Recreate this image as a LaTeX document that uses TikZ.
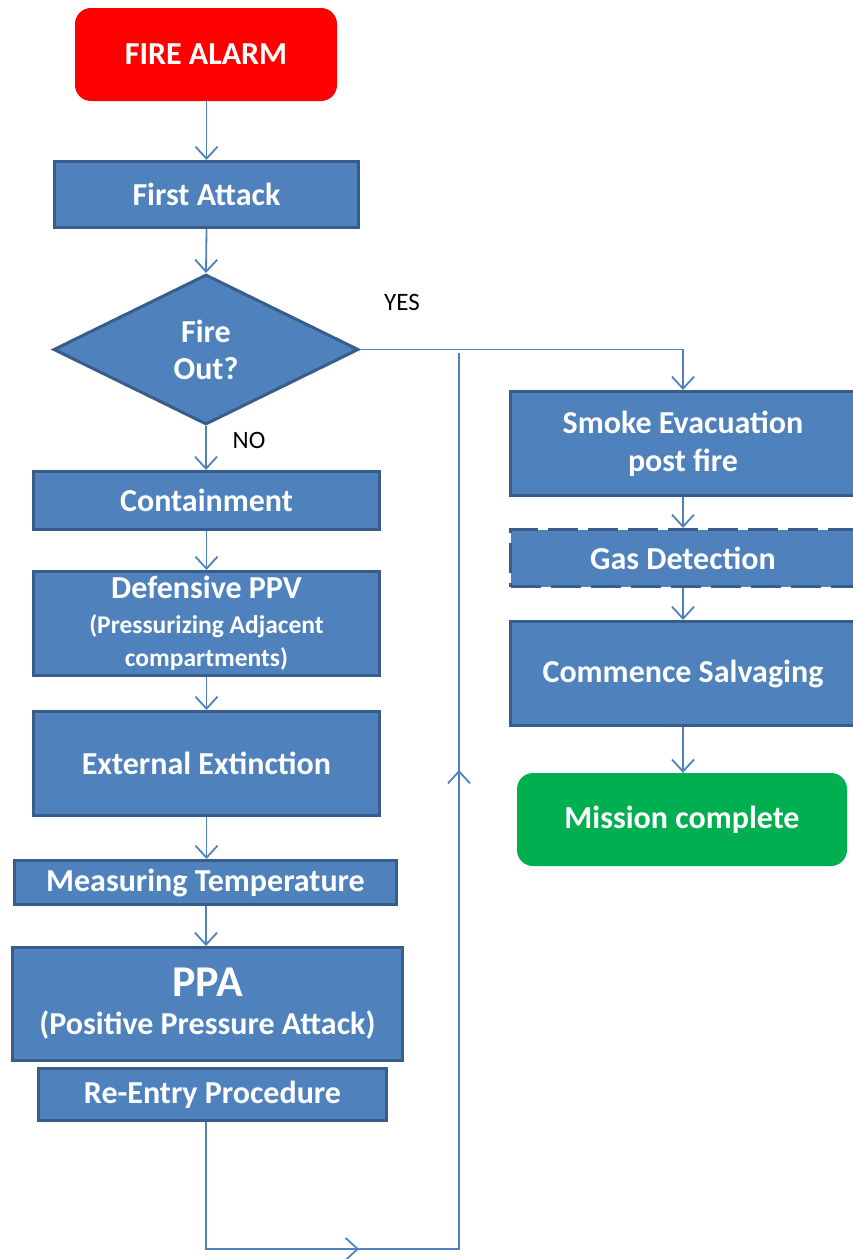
\documentclass[tikz,border=0pt]{standalone}
\usepackage{fontspec}
\setmainfont{Carlito}
\usetikzlibrary{arrows.meta,shapes.geometric,decorations.markings}
\definecolor{boxblue}{HTML}{4F81BD}
\definecolor{boxedge}{HTML}{385D8A}
\definecolor{alarmred}{HTML}{FF0000}
\definecolor{okgreen}{HTML}{00B050}
\definecolor{linkblue}{HTML}{4F81BD}
\begin{document}
\begin{tikzpicture}[x=1pt,y=-1pt,
  box/.style={draw=boxedge, line width=3pt, fill=boxblue, text=white,
    font=\bfseries\fontsize{32}{38}\selectfont, align=center, inner sep=0pt},
  term/.style={fill=#1, text=white, rounded corners=16pt,
    font=\bfseries\fontsize{32}{38}\selectfont, align=center, inner sep=0pt},
  link/.style={draw=linkblue, line width=1.8pt},
  tip/.style={-{Straight Barb[length=12pt,width=22pt,line width=1.8pt]}},
  lbl/.style={font=\fontsize{25}{28}\selectfont, text=black}
]
\useasboundingbox (0,0) rectangle (852,1259);

\node[term=alarmred, minimum width=262pt, minimum height=93pt] (alarm) at (206,54.5) {FIRE ALARM};
\node[box, minimum width=304pt, minimum height=66pt] (first) at (206.5,194.5) {First Attack};
\node[box, shape=diamond, minimum width=305pt, minimum height=150pt] (dia) at (206,349.5) {Fire\\[-1pt]Out?};
\node[box, minimum width=346pt, minimum height=58pt] (contain) at (206.5,500.5) {Containment};
\node[box, minimum width=346pt, minimum height=104pt] (ppv) at (206.5,623.5)
  {Defensive PPV\\[-3pt]{\fontsize{25.5}{31}\selectfont (Pressurizing Adjacent}\\[-5pt]{\fontsize{25.5}{31}\selectfont compartments)}};
\node[box, minimum width=346pt, minimum height=104pt] (ext) at (206.5,763.5) {External Extinction};
\node[box, minimum width=382pt, minimum height=44pt] (meas) at (205.5,882.5) {Measuring Temperature};
\node[box, minimum width=390pt, minimum height=113pt] (ppa) at (207.5,1004)
  {{\fontsize{44}{46}\selectfont PPA}\\(Positive Pressure Attack)};
\node[box, minimum width=348pt, minimum height=52pt] (reentry) at (212.5,1094.5) {Re-Entry Procedure};

\node[box, minimum width=345pt, minimum height=104pt] (smoke) at (683,443.5) {Smoke Evacuation\\post fire};
\node[box, dash pattern=on 30pt off 10pt, minimum width=345pt, minimum height=57pt] (gas) at (683,558) {Gas Detection};
\node[box, minimum width=345pt, minimum height=104pt] (salv) at (683,673.5) {Commence Salvaging};
\node[term=okgreen, minimum width=330pt, minimum height=93pt] (mission) at (682,819.5) {Mission complete};

\node[lbl] (yes) at (402,302) {YES};
\node[lbl] (no) at (249,440) {NO};

\draw[link,tip] (alarm.south -| first.north) -- (first.north);
\draw[link,tip] (first.south) -- (dia.north);
\draw[link,tip] (dia.south) -- (dia.south |- contain.north);
\draw[link,tip] (contain.south) -- (ppv.north);
\draw[link,tip] (ppv.south) -- (ext.north);
\draw[link,tip] (ext.south) -- (ext.south |- meas.north);
\draw[link,tip] (dia.south |- meas.south) -- (dia.south |- ppa.north);
\draw[link,tip] (dia.east) -| (smoke.north);
\draw[link,tip] (smoke.south) -- (gas.north);
\draw[link,tip] (gas.south) -- (salv.north);
\draw[link,tip] (salv.south) -- (salv.south |- mission.north);

\coordinate (c1) at (206,1249);
\coordinate (c2) at (459,1249);
\coordinate (c3) at (459,353);
\draw[link, postaction={decorate}, decoration={markings,
    mark=at position 280pt with {\arrow{Straight Barb[length=12pt,width=22pt,line width=1.8pt]}},
    mark=at position 859pt with {\arrow{Straight Barb[length=12pt,width=22pt,line width=1.8pt]}}}]
  (c1 |- reentry.south) -- (c1) -- (c2) -- (c3);
\end{tikzpicture}
\end{document}
